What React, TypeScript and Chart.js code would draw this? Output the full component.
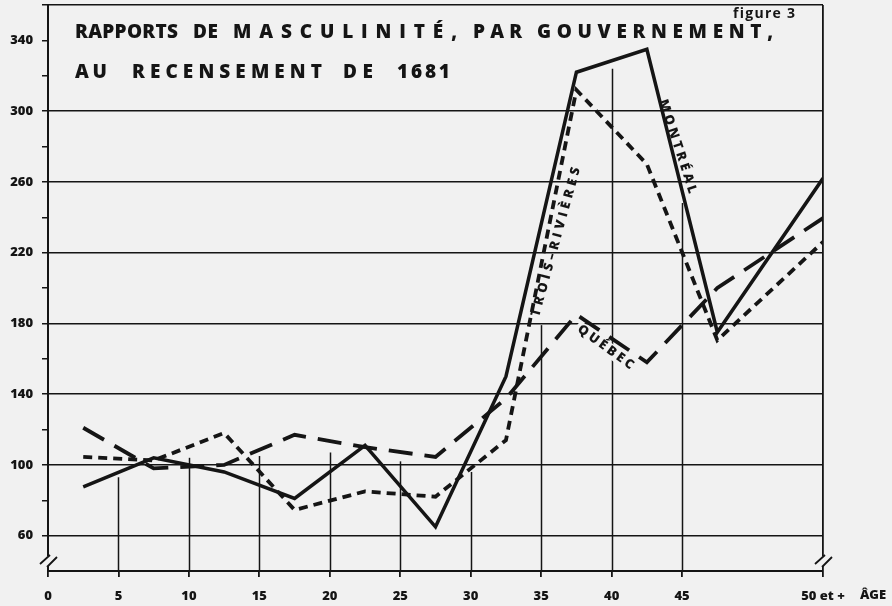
import React, { useEffect, useRef } from "react";
import { Chart, registerables } from "chart.js";

Chart.register(...registerables);

// ---- data ----
const ages = [2.5, 7.5, 12.5, 17.5, 22.5, 27.5, 32.5, 37.5, 42.5, 47.5, 55];
const montreal = [87.5, 104, 96, 81, 111, 65, 150, 322, 335, 175, 262];
const troisRivieres = [104.5, 102.5, 118, 74.5, 85, 82, 114, 312, 270, 170.5, 226];
const quebec = [121, 98, 100, 117, 110, 104.5, 137.5, 185, 158, 200, 239.5];

const xTickValues = [0, 5, 10, 15, 20, 25, 30, 35, 40, 45, 55];
const xTickLabels = ["0", "5", "10", "15", "20", "25", "30", "35", "40", "45", "50 et +"];
const yTickValues = [40, 60, 80, 100, 120, 140, 160, 180, 200, 220, 240, 260, 280, 300, 320, 340, 360];
const yLabelledValues = [60, 100, 140, 180, 220, 260, 300, 340];
const yGridValues = [60, 100, 140, 180, 220, 260, 300, 360];

// vertical grid lines in the original only rise to these levels
const partialGridAges = [5, 10, 15, 20, 25, 30, 35, 40, 45];
const partialGridTops = [93, 104, 105, 107, 102, 96, 179, 324, 248];

const titleLine1 = ["RAPPORTS", "DE", "MASCULINITÉ,", "PAR", "GOUVERNEMENT,"];
const titleLine2 = ["AU", "RECENSEMENT", "DE", "1681"];
const figureLabel = "figure 3";
const axisName = "ÂGE";

// ---- styling / layout ----
const BG = "#f1f1f1";
const INK = "#151515";
const FONT = "'Open Sans', 'DejaVu Sans', sans-serif";
const line1Spans = [[75, 178], [193, 218], [233, 457], [473, 522], [537, 773]];
const line2Spans = [[75, 107], [132, 322], [343, 373], [397, 450]];

const seriesLabels = [
  { text: "MONTRÉAL", age: 44.68, value: 280, angle: 72, len: 98, clear: false },
  { text: "TROIS–RIVIÈRES", age: 36.05, value: 226, angle: -74.5, len: 154, clear: false },
  { text: "QUÉBEC", age: 39.57, value: 166.5, angle: 36, len: 66, clear: true },
];

function drawSpaced(ctx: CanvasRenderingContext2D, text: string, x: number, y: number, width: number) {
  const chars = Array.from(text);
  const widths = chars.map((c) => ctx.measureText(c).width);
  const sum = widths.reduce((a, b) => a + b, 0);
  const gap = chars.length > 1 ? (width - sum) / (chars.length - 1) : 0;
  let cx = x;
  chars.forEach((c, i) => {
    ctx.fillText(c, cx, y);
    cx += widths[i] + gap;
  });
}

const decorPlugin = {
  id: "decor",
  beforeDraw(chart: any) {
    const ctx = chart.ctx as CanvasRenderingContext2D;
    ctx.save();
    ctx.fillStyle = BG;
    ctx.fillRect(0, 0, chart.width, chart.height);
    ctx.restore();
  },
  beforeDatasetsDraw(chart: any) {
    const ctx = chart.ctx as CanvasRenderingContext2D;
    const xs = chart.scales.x;
    const ys = chart.scales.y;
    const bottom = chart.chartArea.bottom;
    ctx.save();
    ctx.strokeStyle = INK;
    ctx.lineWidth = 1.5;
    partialGridAges.forEach((a, i) => {
      const px = Math.round(xs.getPixelForValue(a)) + 0.5;
      ctx.beginPath();
      ctx.moveTo(px, ys.getPixelForValue(partialGridTops[i]));
      ctx.lineTo(px, bottom);
      ctx.stroke();
    });
    ctx.restore();
  },
  afterDraw(chart: any) {
    const ctx = chart.ctx as CanvasRenderingContext2D;
    const xs = chart.scales.x;
    const ys = chart.scales.y;
    const { left, right, bottom } = chart.chartArea;
    ctx.save();
    ctx.fillStyle = INK;
    ctx.strokeStyle = INK;

    // series labels along the lines
    seriesLabels.forEach((l) => {
      ctx.save();
      ctx.translate(xs.getPixelForValue(l.age), ys.getPixelForValue(l.value));
      ctx.rotate((l.angle * Math.PI) / 180);
      if (l.clear) {
        ctx.fillStyle = BG;
        ctx.fillRect(-l.len / 2 - 3, -7, l.len + 6, 14);
        ctx.fillStyle = INK;
      }
      ctx.font = `800 13px ${FONT}`;
      ctx.textBaseline = "middle";
      ctx.textAlign = "left";
      drawSpaced(ctx, l.text, -l.len / 2, 0, l.len);
      ctx.restore();
    });

    // axis breaks
    const breaks = [left, right];
    breaks.forEach((bx) => {
      ctx.fillStyle = BG;
      ctx.fillRect(bx - 3, bottom - 15, 6, 10);
      ctx.strokeStyle = INK;
      ctx.lineWidth = 1.8;
      ctx.beginPath();
      ctx.moveTo(bx - 8, bottom - 7);
      ctx.lineTo(bx + 2, bottom - 16);
      ctx.moveTo(bx - 1, bottom - 4);
      ctx.lineTo(bx + 9, bottom - 14);
      ctx.stroke();
    });

    // title
    ctx.fillStyle = INK;
    ctx.textBaseline = "alphabetic";
    ctx.textAlign = "left";
    ctx.font = `800 19px ${FONT}`;
    titleLine1.forEach((w, i) => drawSpaced(ctx, w, line1Spans[i][0], 38, line1Spans[i][1] - line1Spans[i][0]));
    titleLine2.forEach((w, i) => drawSpaced(ctx, w, line2Spans[i][0], 78, line2Spans[i][1] - line2Spans[i][0]));

    ctx.font = `700 14px ${FONT}`;
    drawSpaced(ctx, figureLabel, 733, 18, 62);

    ctx.font = `800 13px ${FONT}`;
    ctx.textAlign = "center";
    ctx.textBaseline = "middle";
    ctx.fillText(axisName, right + 50, 595);
    ctx.restore();
  },
};

export default function App() {
  const canvasRef = useRef<HTMLCanvasElement | null>(null);

  useEffect(() => {
    const canvas = canvasRef.current;
    if (!canvas) return;
    const mk = (vals: number[]) => ages.map((a, i) => ({ x: a, y: vals[i] }));
    const common = {
      borderColor: INK,
      pointRadius: 0,
      fill: false,
      tension: 0,
      borderJoinStyle: "miter" as const,
      borderCapStyle: "butt" as const,
    };
    const chart = new Chart(canvas, {
      type: "line",
      data: {
        datasets: [
          { label: "Montréal", data: mk(montreal), borderWidth: 3.5, ...common },
          { label: "Trois-Rivières", data: mk(troisRivieres), borderWidth: 3.8, borderDash: [9, 6], ...common },
          { label: "Québec", data: mk(quebec), borderWidth: 3.8, borderDash: [24, 12], ...common },
        ],
      },
      options: {
        animation: false,
        responsive: false,
        devicePixelRatio: 1,
        layout: { padding: { left: 8, top: 5, right: 69, bottom: 0 } },
        plugins: { legend: { display: false }, tooltip: { enabled: false }, title: { display: false } },
        scales: {
          x: {
            type: "linear",
            min: 0,
            max: 55,
            afterBuildTicks: (s: any) => {
              s.ticks = xTickValues.map((v) => ({ value: v }));
            },
            afterFit: (s: any) => {
              s.height = 35;
              s.paddingLeft = 0;
              s.paddingRight = 0;
            },
            ticks: {
              autoSkip: false,
              maxRotation: 0,
              minRotation: 0,
              padding: 11,
              color: INK,
              font: { family: FONT, weight: "800", size: 13 },
              callback: (v: any) => {
                const i = xTickValues.indexOf(Number(v));
                return i >= 0 ? xTickLabels[i] : "";
              },
            },
            grid: {
              color: (c: any) => (c.tick && c.tick.value === 55 ? INK : "rgba(0,0,0,0)"),
              tickColor: INK,
              tickLength: 6,
              lineWidth: 1.8,
            },
            border: { color: INK, width: 2 },
          },
          y: {
            type: "linear",
            min: 40,
            max: 360,
            afterBuildTicks: (s: any) => {
              s.ticks = yTickValues.map((v) => ({ value: v }));
            },
            afterFit: (s: any) => {
              s.width = 40;
              s.paddingTop = 0;
              s.paddingBottom = 0;
            },
            ticks: {
              autoSkip: false,
              padding: 9,
              color: INK,
              font: { family: FONT, weight: "800", size: 13 },
              callback: (v: any) => (yLabelledValues.includes(Number(v)) ? String(v) : ""),
            },
            grid: {
              color: (c: any) => (c.tick && yGridValues.includes(c.tick.value) ? INK : "rgba(0,0,0,0)"),
              tickColor: (c: any) => (c.tick && c.tick.value === 40 ? "rgba(0,0,0,0)" : INK),
              tickLength: 6,
              lineWidth: 1.5,
            },
            border: { color: INK, width: 2 },
          },
        },
      },
      plugins: [decorPlugin],
    } as any);
    return () => chart.destroy();
  }, []);

  return (
    <div style={{ position: "fixed", left: 0, top: 0, width: 892, height: 606, background: BG }}>
      <canvas ref={canvasRef} width={892} height={606} style={{ display: "block", width: 892, height: 606 }} />
    </div>
  );
}
